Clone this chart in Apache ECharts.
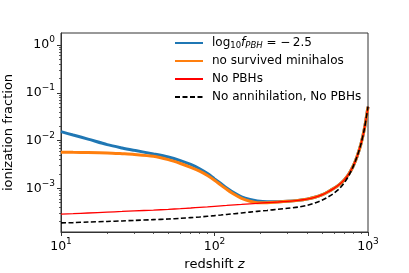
<!DOCTYPE html>
<html><head><meta charset="utf-8">
<script src="https://cdn.jsdelivr.net/npm/echarts@6/dist/echarts.min.js"></script>
<style>html,body{margin:0;padding:0;background:#fff}#c{width:409px;height:273px}</style>
</head><body><div id="c"></div>
<script>
const redshift = [10,12,15,20,25,30,40,50,60,70,80,90,100,110,120,135,150,170,190,220,260,300,350,400,450,500,550,600,650,700,750,800,850,900,950,1000];
const fPBH = [0.01535,0.01303,0.01072,0.00822,0.0070,0.00624,0.00525,0.00452,0.0038,0.00316,0.00257,0.00204,0.00158,0.00126,0.00102,0.000794,0.000661,0.000582,0.000543,0.000525,0.000525,5.35e-4,5.60e-4,5.95e-4,6.50e-4,7.30e-4,8.50e-4,1.00e-3,1.20e-3,1.50e-3,2.0e-3,2.9e-3,4.7e-3,8.5e-3,0.0185,0.051];
const noMinihalos = [0.00569,0.00566,0.00562,0.0055,0.00531,0.00513,0.00468,0.00398,0.00331,0.00275,0.00229,0.00186,0.00148,0.00117,0.000955,0.000741,0.000617,0.000537,0.000501,0.000502,0.000518,5.35e-4,5.60e-4,5.95e-4,6.50e-4,7.30e-4,8.50e-4,1.00e-3,1.20e-3,1.50e-3,2.0e-3,2.9e-3,4.7e-3,8.5e-3,0.0185,0.051];
const noPBHs = [2.90e-4,2.96e-4,3.05e-4,3.18e-4,3.28e-4,3.37e-4,3.50e-4,3.63e-4,3.76e-4,3.88e-4,4.00e-4,4.10e-4,4.20e-4,4.30e-4,4.38e-4,4.50e-4,4.60e-4,4.74e-4,4.86e-4,5.02e-4,5.18e-4,5.35e-4,5.60e-4,5.95e-4,6.50e-4,7.30e-4,8.50e-4,1.00e-3,1.20e-3,1.50e-3,2.0e-3,2.9e-3,4.7e-3,8.5e-3,0.0185,0.051];
const noAnnihilation = [1.89e-4,1.92e-4,1.97e-4,2.03e-4,2.08e-4,2.13e-4,2.21e-4,2.28e-4,2.36e-4,2.44e-4,2.52e-4,2.60e-4,2.68e-4,2.76e-4,2.84e-4,2.95e-4,3.05e-4,3.18e-4,3.30e-4,3.45e-4,3.65e-4,3.82e-4,4.05e-4,4.40e-4,4.90e-4,5.60e-4,6.60e-4,7.90e-4,9.80e-4,1.30e-3,1.85e-3,2.85e-3,4.7e-3,8.5e-3,0.0185,0.051];
const seriesNames = ['fPBH', 'no survived minihalos', 'No PBHs', 'No annihilation, No PBHs'];
const xMajorTicks = [10, 100, 1000];
const xMinorTicks = [20,30,40,50,60,70,80,90,200,300,400,500,600,700,800,900];
const yMajorTicks = [1e-3, 1e-2, 1e-1, 1];
const yMinorTicks = [2e-4,3e-4,4e-4,5e-4,6e-4,7e-4,8e-4,9e-4,2e-3,3e-3,4e-3,5e-3,6e-3,7e-3,8e-3,9e-3,0.02,0.03,0.04,0.05,0.06,0.07,0.08,0.09,0.2,0.3,0.4,0.5,0.6,0.7,0.8,0.9];
const xRange = [10, 1000];
const yRange = [1.22e-4, 1.78];

const FONT = 'DejaVu Sans';
const AX = '#333';
function powLabel(v) {
  const e = Math.round(Math.log10(v));
  return '{b|10}{s|' + String(e).replace('-', '\u2212') + '}';
}
const supRichX = {
  b: {fontFamily: FONT, fontSize: 12.5, color: '#000', padding: [3, 0, 0, 0], verticalAlign: 'bottom'},
  s: {fontFamily: FONT, fontSize: 9, color: '#000', verticalAlign: 'top'}
};
const supRichY = {
  b: {fontFamily: FONT, fontSize: 12.5, color: '#000', padding: [3, 0, 3, 0], verticalAlign: 'middle'},
  s: {fontFamily: FONT, fontSize: 9, color: '#000', verticalAlign: 'top'}
};
function pairs(ys) { return redshift.map((z, i) => [z, ys[i]]); }

const chart = echarts.init(document.getElementById('c'), null, {renderer: 'canvas'});
chart.setOption({
  animation: false,
  backgroundColor: '#fff',
  textStyle: {fontFamily: FONT},
  grid: {left: 61, right: 41, top: 33, bottom: 41, containLabel: false, outerBoundsMode: 'none',
    show: true, borderColor: AX, borderWidth: 1, backgroundColor: 'transparent'},
  xAxis: [
    {type: 'log', logBase: 10, min: xRange[0], max: xRange[1], position: 'bottom',
     axisLine: {show: true, lineStyle: {color: AX, width: 1}},
     axisTick: {show: true, customValues: xMajorTicks, length: 4, lineStyle: {color: AX, width: 1}},
     axisLabel: {show: true, customValues: xMajorTicks, margin: 5, formatter: powLabel, rich: supRichX},
     splitLine: {show: false}, minorTick: {show: false},
     name: '{t|redshift }{i|z}', nameLocation: 'middle', nameGap: 24,
     nameTextStyle: {rich: {t: {fontFamily: FONT, fontSize: 13, color: '#000'}, i: {fontFamily: FONT, fontSize: 13, fontStyle: 'italic', color: '#000'}}}},
    {type: 'log', logBase: 10, min: xRange[0], max: xRange[1], position: 'bottom',
     axisLine: {show: false},
     axisTick: {show: true, customValues: xMinorTicks, length: 2, lineStyle: {color: AX, width: 0.8}},
     axisLabel: {show: false}, splitLine: {show: false}}
  ],
  yAxis: [
    {type: 'log', logBase: 10, min: yRange[0], max: yRange[1], position: 'left',
     axisLine: {show: true, lineStyle: {color: AX, width: 1}},
     axisTick: {show: true, customValues: yMajorTicks, length: 4, lineStyle: {color: AX, width: 1}},
     axisLabel: {show: true, customValues: yMajorTicks, margin: 6, formatter: powLabel, rich: supRichY},
     splitLine: {show: false}, minorTick: {show: false},
     name: 'ionization fraction', nameLocation: 'middle', nameGap: 45, nameRotate: 90,
     nameTextStyle: {fontFamily: FONT, fontSize: 13, color: '#000'}},
    {type: 'log', logBase: 10, min: yRange[0], max: yRange[1], position: 'left',
     axisLine: {show: false},
     axisTick: {show: true, customValues: yMinorTicks, length: 2, lineStyle: {color: AX, width: 0.8}},
     axisLabel: {show: false}, splitLine: {show: false}}
  ],
  legend: {
    orient: 'vertical', left: 174, top: 36, padding: 0, itemGap: 4,
    itemWidth: 28, itemHeight: 14,
    itemStyle: {color: 'rgba(0,0,0,0)', borderColor: 'rgba(0,0,0,0)', borderWidth: 0},
    data: seriesNames,
    formatter: function (name) {
      if (name === seriesNames[0]) return '{n|log}{sub|10}{i|f}{isub|PBH}{n| = \u2212\u20092.5}';
      return name;
    },
    textStyle: {fontFamily: FONT, fontSize: 12, color: '#000', lineHeight: 14, padding: [0, 0, 0, 4],
      rich: {
        n: {fontFamily: FONT, fontSize: 12, color: '#000', lineHeight: 14},
        i: {fontFamily: FONT, fontSize: 12, fontStyle: 'italic', color: '#000', lineHeight: 14},
        sub: {fontFamily: FONT, fontSize: 8.5, color: '#000', verticalAlign: 'bottom', lineHeight: 10},
        isub: {fontFamily: FONT, fontSize: 8.5, fontStyle: 'italic', color: '#000', verticalAlign: 'bottom', lineHeight: 10}
      }}
  },
  series: [
    {name: seriesNames[0], type: 'line', data: pairs(fPBH), showSymbol: false, symbol: 'none', smooth: 0.3,
     lineStyle: {color: '#1f77b4', width: 3}, itemStyle: {color: '#1f77b4'}},
    {name: seriesNames[1], type: 'line', data: pairs(noMinihalos), showSymbol: false, symbol: 'none', smooth: 0.3,
     lineStyle: {color: '#ff7f0e', width: 3}, itemStyle: {color: '#ff7f0e'}},
    {name: seriesNames[2], type: 'line', data: pairs(noPBHs), showSymbol: false, symbol: 'none', smooth: 0.3,
     lineStyle: {color: '#ff0000', width: 1.3}, itemStyle: {color: '#ff0000'}},
    {name: seriesNames[3], type: 'line', data: pairs(noAnnihilation), showSymbol: false, symbol: 'none', smooth: 0.3,
     lineStyle: {color: '#000', width: 1.6, type: [5, 2.5]}, itemStyle: {color: '#000'}}
  ]
});
</script></body></html>
